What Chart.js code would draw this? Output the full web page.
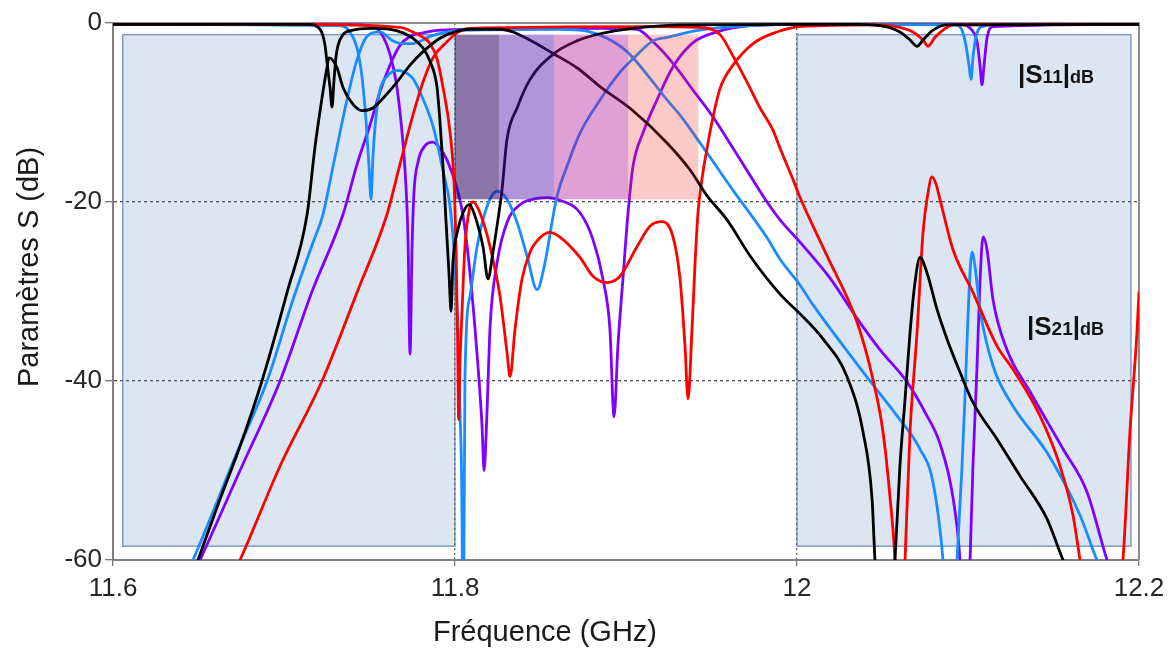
<!DOCTYPE html>
<html lang="fr">
<head>
<meta charset="utf-8">
<title>Paramètres S</title>
<script src="https://cdn.jsdelivr.net/npm/chart.js@4.4.1/dist/chart.umd.min.js"></script>
<style>
  html, body { margin: 0; padding: 0; background: #fff; }
  #wrap { width: 1172px; height: 657px; }
</style>
</head>
<body>
<div id="wrap"><canvas id="chart" width="1172" height="657"></canvas></div>
<script>
// axes
const xTicks = [11.6, 11.8, 12, 12.2];
const yTicks = [-60, -40, -20, 0];

// bandes (GHz) et niveaux (dB)
const rejectBands = [[11.6057, 11.8], [12.0, 12.1953]];
const rejectLevels = [-1.3, -58.45];
const passEdges = [11.8, 11.8257, 11.858, 11.9013, 11.9423];
const passLevels = [-1.3, -19.7];

// courbe noire
const blackS21F = [11.642, 11.6497, 11.6626, 11.6743, 11.6871, 11.7018, 11.7135, 11.7181, 11.7222, 11.7251, 11.7263, 11.7287, 11.7310, 11.7345, 11.7404, 11.7456, 11.7520, 11.7579, 11.7661, 11.7737, 11.7813, 11.7912, 11.8012, 11.8088, 11.8263, 11.8339, 11.8456, 11.8573, 11.8713, 11.8848, 11.9041, 11.9240, 11.9374, 11.9474, 11.9591, 11.9725, 11.9901, 12.0018, 12.0152, 12.0292, 12.0386, 12.0439, 12.0456, 12.0515, 12.0573, 12.0602, 12.0632, 12.0661, 12.0690, 12.0719, 12.0760, 12.0819, 12.0877, 12.0953, 12.1029, 12.1170, 12.1304, 12.1462, 12.1556, 12.1655, 12.2];
const blackS21Db = [-64, -60, -53.2, -47.3, -40, -30.1, -21.4, -13.9, -8.4, -5.0, -3.9, -4.2, -5.0, -7.2, -9.1, -9.8, -9.5, -8.4, -6.6, -4.7, -3.2, -1.7, -0.9, -0.7, -0.7, -1.0, -2.1, -3.4, -5.0, -7.1, -9.8, -13.4, -16.4, -19.3, -22, -26, -30.3, -32.5, -35.3, -39.5, -45.7, -53.2, -60, -75, -60, -49.5, -42, -34.6, -29, -26.2, -27.9, -32, -35.3, -39, -42.4, -46.5, -50.6, -55.4, -60, -64, -75];
const blackS11F = [11.6, 11.7152, 11.7193, 11.7222, 11.7240, 11.7251, 11.7269, 11.7281, 11.7292, 11.7304, 11.7316, 11.7345, 11.7404, 11.7503, 11.7620, 11.7696, 11.7754, 11.7813, 11.7854, 11.7895, 11.7912, 11.7930, 11.7947, 11.7965, 11.7977, 11.7988, 11.8018, 11.8047, 11.8082, 11.8129, 11.8164, 11.8193, 11.8222, 11.8251, 11.8275, 11.8304, 11.8363, 11.8439, 11.8573, 11.8713, 11.8848, 11.9041, 11.9333, 12.0310, 12.0485, 12.0602, 12.0661, 12.0702, 12.0737, 12.0795, 12.0877, 12.2];
const blackS11Db = [-0.15, -0.15, -0.4, -1.1, -2.5, -4.3, -7.2, -9.4, -6.5, -3.8, -2.5, -1.3, -0.8, -0.6, -0.7, -1.1, -1.7, -2.8, -4.3, -7.2, -11, -16, -22, -28, -32.2, -26.8, -23, -21.2, -20.3, -22.3, -25, -28.6, -25.6, -22, -18.6, -13, -9.5, -6.3, -3.5, -2.0, -1.2, -0.6, -0.2, -0.15, -0.3, -1.0, -1.9, -2.6, -1.9, -0.8, -0.2, -0.15];

// courbe bleue
const blueS21F = [11.637, 11.6468, 11.6725, 11.6901, 11.7053, 11.7170, 11.7228, 11.7287, 11.7368, 11.7427, 11.7485, 11.7561, 11.7637, 11.7696, 11.7754, 11.7854, 11.7953, 11.8047, 11.8614, 11.8772, 11.8889, 11.9006, 11.9158, 11.9240, 11.9316, 11.9433, 11.9626, 11.9825, 11.9901, 12.0018, 12.0094, 12.0427, 12.0585, 12.0719, 12.0795, 12.0854, 12.0895, 12.0936, 12.0965, 12.0982, 12.1000, 12.1023, 12.1041, 12.1070, 12.1146, 12.1263, 12.1462, 12.1655, 12.1754, 12.2];
const blueS21Db = [-64, -60, -48, -40, -30.9, -24.5, -21.4, -16, -8.6, -4.1, -1.5, -1.0, -2.0, -2.3, -2.3, -1.5, -1.0, -0.8, -0.7, -0.9, -1.7, -3.2, -6.6, -8.6, -10.3, -13.4, -18.7, -24, -26.4, -29.3, -31.5, -40, -43.9, -47.6, -51.3, -60, -72, -60, -49.5, -42, -32.8, -25.6, -27.2, -32, -38.3, -42.8, -48, -55, -60, -70];
const blueS11F = [11.6, 11.7327, 11.7386, 11.7427, 11.7456, 11.7480, 11.7497, 11.7509, 11.7520, 11.7538, 11.7561, 11.7602, 11.7661, 11.7708, 11.7754, 11.7813, 11.7871, 11.7930, 11.7971, 11.8000, 11.8018, 11.8029, 11.8041, 11.8047, 11.8058, 11.8088, 11.8129, 11.8187, 11.8246, 11.8304, 11.8363, 11.8421, 11.8480, 11.8526, 11.8567, 11.8596, 11.8655, 11.8731, 11.8848, 11.8965, 11.9041, 11.9158, 11.9240, 11.9433, 11.9725, 12.0018, 12.0930, 12.0965, 12.0988, 12.1006, 12.1018, 12.1029, 12.1047, 12.1082, 12.1187, 12.2];
const blueS11Db = [-0.15, -0.3, -1.0, -2.8, -6, -11, -16, -19.7, -15, -10.5, -7.5, -6, -5.3, -5.5, -6.2, -8.5, -11.5, -16.5, -20.5, -27, -35, -43, -55, -75, -40, -30.5, -25, -20.5, -18.8, -19.7, -22.3, -26, -29.8, -26.8, -22.3, -19.4, -16, -12.3, -8.6, -5.5, -4.0, -2.0, -1.6, -0.8, -0.3, -0.15, -0.2, -0.8, -2.5, -4.8, -6.3, -3.9, -1.5, -0.4, -0.15, -0.15];

// courbe violette
const purpleS21F = [11.641, 11.6509, 11.6743, 11.6977, 11.7164, 11.7345, 11.7427, 11.7503, 11.7561, 11.7620, 11.7678, 11.7737, 11.7813, 11.7912, 11.8848, 11.9064, 11.9158, 11.9275, 11.9392, 11.9509, 11.9626, 11.9725, 11.9825, 11.9901, 12.0018, 12.0193, 12.0351, 12.0485, 12.0643, 12.0749, 12.0836, 12.0912, 12.0953, 12.0982, 12.1012, 12.1029, 12.1053, 12.1070, 12.1088, 12.1111, 12.1146, 12.1228, 12.1363, 12.1556, 12.1696, 12.1813, 12.2];
const purpleS21Db = [-64, -60, -50, -40, -30, -21.4, -15.8, -11.4, -7.7, -4.7, -2.5, -1.5, -1.1, -0.8, -0.6, -0.7, -2.1, -4.5, -7.5, -10.5, -14, -17, -20, -22, -24.5, -28.5, -33, -36.5, -40.1, -43.5, -47, -53, -60, -72, -60, -49.5, -38.3, -29, -23.9, -25.3, -30.9, -36.5, -41.2, -47.6, -52.4, -60, -70];
const purpleS11F = [11.6, 11.7444, 11.7532, 11.7579, 11.7620, 11.7655, 11.7684, 11.7708, 11.7725, 11.7737, 11.7749, 11.7760, 11.7784, 11.7825, 11.7871, 11.7912, 11.7953, 11.8012, 11.8047, 11.8088, 11.8129, 11.8158, 11.8170, 11.8187, 11.8205, 11.8246, 11.8304, 11.8380, 11.8480, 11.8544, 11.8614, 11.8731, 11.8807, 11.8865, 11.8906, 11.8930, 11.8953, 11.8982, 11.9012, 11.9041, 11.9099, 11.9181, 11.9275, 11.9392, 11.9532, 11.9725, 12.0018, 12.0953, 12.1023, 12.1053, 12.1070, 12.1082, 12.1094, 12.1111, 12.1146, 12.2];
const purpleS11Db = [-0.15, -0.2, -0.5, -1.5, -3.5, -6.5, -11, -16.5, -24, -37, -25, -19, -15.5, -13.7, -13.3, -14, -15.3, -18.5, -21.5, -28, -37, -45, -50, -43.5, -34, -26.8, -22.3, -20.3, -19.6, -19.5, -19.8, -21.2, -24.2, -28.6, -34.2, -44, -36, -28.6, -21.2, -16, -12.3, -8.6, -4.9, -2.2, -1.0, -0.3, -0.15, -0.15, -0.8, -2.1, -4.7, -6.9, -4.7, -1.7, -0.4, -0.15];

// courbe rouge
const redS21F = [11.664, 11.6743, 11.6977, 11.7222, 11.7427, 11.7602, 11.7678, 11.7754, 11.7813, 11.7871, 11.7953, 11.8012, 11.8088, 11.9140, 11.9433, 11.9550, 11.9626, 11.9708, 11.9784, 11.9860, 11.9901, 11.9977, 12.0018, 12.0175, 12.0351, 12.0444, 12.0503, 12.0544, 12.0573, 12.0602, 12.0632, 12.0661, 12.0702, 12.0737, 12.0766, 12.0789, 12.0813, 12.0836, 12.0912, 12.1029, 12.1170, 12.1263, 12.1421, 12.1538, 12.1614, 12.1655, 12.1772, 12.1906, 12.1947, 12.1988, 12.2];
const redS21Db = [-64, -60, -49.5, -40, -30.1, -21.4, -15.8, -10.3, -6.6, -3.9, -2.1, -1.1, -0.6, -0.4, -0.5, -1.3, -3.7, -6.6, -9.5, -12, -14, -17.5, -19.5, -26, -33.4, -39.8, -45.7, -53, -60, -75, -60, -45.7, -34.6, -23.4, -19, -17.2, -18, -19.7, -25.3, -30.1, -36.1, -38.7, -43.9, -49.5, -55, -60, -75, -60, -45.7, -34.6, -30];
const redS11F = [11.6, 11.7094, 11.7678, 11.7754, 11.7813, 11.7854, 11.7895, 11.7930, 11.7971, 11.7994, 11.8006, 11.8015, 11.8021, 11.8029, 11.8041, 11.8058, 11.8088, 11.8105, 11.8146, 11.8205, 11.8263, 11.8304, 11.8322, 11.8351, 11.8392, 11.8439, 11.8497, 11.8556, 11.8632, 11.8731, 11.8807, 11.8889, 11.8965, 11.9064, 11.9140, 11.9211, 11.9275, 11.9316, 11.9345, 11.9363, 11.9386, 11.9404, 11.9421, 11.9444, 11.9474, 11.9509, 11.9550, 11.9626, 11.9743, 11.9883, 12.0018, 12.0485, 12.0602, 12.0678, 12.0737, 12.0766, 12.0807, 12.0854, 12.0912, 12.2];
const redS11Db = [-0.15, -0.15, -0.5, -1.0, -1.6, -2.3, -4.0, -7.2, -12.2, -17.7, -25, -35, -44.3, -38, -32.3, -25, -20.5, -20, -21.2, -25, -30.5, -36.8, -39.5, -34.2, -28.6, -25.6, -24, -23.4, -24.2, -26.2, -28.3, -29, -28.3, -25, -22.7, -22.2, -23.9, -28.6, -36.1, -42, -34.2, -26.8, -21.2, -17.5, -14, -10.5, -7.3, -4.7, -2.3, -1.0, -0.4, -0.2, -0.5, -1.0, -1.9, -2.6, -1.6, -0.8, -0.2, -0.15];

const FONT = "'Liberation Sans', Arial, sans-serif";

function pts(f, d) {
  return f.map((x, i) => ({ x: x, y: d[i] }));
}

// le premier jeu est dessiné au-dessus
const curves = [
  { f: blackS11F, d: blackS11Db, color: '#000000' },
  { f: blackS21F, d: blackS21Db, color: '#000000' },
  { f: redS11F, d: redS11Db, color: '#ff0000' },
  { f: redS21F, d: redS21Db, color: '#ff0000' },
  { f: blueS11F, d: blueS11Db, color: '#1a8cff' },
  { f: blueS21F, d: blueS21Db, color: '#1a8cff' },
  { f: purpleS11F, d: purpleS11Db, color: '#8000ff' },
  { f: purpleS21F, d: purpleS21Db, color: '#8000ff' },
];

// couleurs des canaux (semi-transparentes, par-dessus les courbes)
const passColors = ['rgba(42,4,93,0.55)', 'rgba(79,22,168,0.45)', 'rgba(180,17,145,0.4)', 'rgba(243,39,39,0.25)'];

const zones = {
  id: 'zones',
  beforeDraw(chart) {
    const { ctx, scales: { x, y } } = chart;
    ctx.save();
    ctx.fillStyle = '#dce6f2';
    ctx.strokeStyle = '#7f9cc4';
    ctx.lineWidth = 1.5;
    const top = y.getPixelForValue(rejectLevels[0]);
    const bot = y.getPixelForValue(rejectLevels[1]);
    rejectBands.forEach(b => {
      const l = x.getPixelForValue(b[0]);
      const r = x.getPixelForValue(b[1]);
      ctx.fillRect(l, top, r - l, bot - top);
      ctx.strokeRect(l, top, r - l, bot - top);
    });
    ctx.restore();
  },
  beforeDatasetsDraw(chart) {
    const { ctx, chartArea: a } = chart;
    ctx.save();
    ctx.strokeStyle = '#8c8c8c';
    ctx.lineWidth = 2;
    ctx.beginPath();
    ctx.moveTo(a.left, a.top);
    ctx.lineTo(a.right, a.top);
    ctx.lineTo(a.right, a.bottom);
    ctx.stroke();
    ctx.restore();
  },
  afterDatasetsDraw(chart) {
    const { ctx, scales: { x, y } } = chart;
    ctx.save();
    const top = y.getPixelForValue(passLevels[0]);
    const bot = y.getPixelForValue(passLevels[1]);
    for (let i = 0; i < passEdges.length - 1; i++) {
      const l = x.getPixelForValue(passEdges[i]);
      const r = x.getPixelForValue(passEdges[i + 1]);
      ctx.fillStyle = passColors[i];
      ctx.fillRect(l, top, r - l, bot - top);
    }
    ctx.restore();
  },
  afterDraw(chart) {
    const ctx = chart.ctx;
    ctx.save();
    ctx.fillStyle = '#1a1a1a';
    ctx.font = '29px ' + FONT;
    ctx.textAlign = 'center';
    ctx.textBaseline = 'middle';
    ctx.fillText('Fréquence (GHz)', 545, 633);
    ctx.translate(30, 267);
    ctx.rotate(-Math.PI / 2);
    ctx.fillText('Paramètres S (dB)', 0, 0);
    ctx.restore();

    drawSParam(ctx, 1018, 82.5, '11');
    drawSParam(ctx, 1027, 335, '21');
  }
};

// |Sij|dB en gras avec indices
function drawSParam(ctx, x0, base, idx) {
  const parts = [['|', 26], ['S', 26], [idx, 19], ['|', 26], ['dB', 18]];
  ctx.save();
  ctx.fillStyle = '#111';
  ctx.textAlign = 'left';
  ctx.textBaseline = 'alphabetic';
  let cx = x0;
  parts.forEach(p => {
    ctx.font = 'bold ' + p[1] + 'px ' + FONT;
    ctx.fillText(p[0], cx, base);
    cx += ctx.measureText(p[0]).width;
  });
  ctx.restore();
}

new Chart(document.getElementById('chart'), {
  type: 'line',
  data: {
    datasets: curves.map(c => ({
      data: pts(c.f, c.d),
      borderColor: c.color,
      borderWidth: 2.8,
      pointRadius: 0,
      fill: false,
      cubicInterpolationMode: 'monotone',
    }))
  },
  options: {
    responsive: false,
    animation: false,
    devicePixelRatio: 1,
    events: [],
    layout: { padding: { top: 23, right: 33, left: 0, bottom: 0 } },
    plugins: { legend: { display: false }, tooltip: { enabled: false } },
    scales: {
      x: {
        type: 'linear',
        min: 11.6,
        max: 12.2,
        afterBuildTicks: s => { s.ticks = xTicks.map(v => ({ value: v })); },
        afterFit: s => { s.height = 97; },
        ticks: {
          callback: v => String(+v.toFixed(1)),
          font: { family: FONT, size: 26 },
          color: '#262626',
          padding: 7,
          maxRotation: 0,
          autoSkip: false,
        },
        grid: {
          color: c => (c.tick && (c.tick.value === 11.8 || c.tick.value === 12)) ? '#666666' : 'rgba(0,0,0,0)',
          lineWidth: 1.3,
          tickLength: 6,
          tickColor: '#777777',
        },
        border: { color: '#808080', width: 2, dash: [2, 3] },
      },
      y: {
        min: -60,
        max: 0,
        afterBuildTicks: s => { s.ticks = yTicks.map(v => ({ value: v })); },
        afterFit: s => { s.width = 113; },
        ticks: {
          font: { family: FONT, size: 26 },
          color: '#262626',
          padding: 3,
        },
        grid: {
          color: c => (c.tick && (c.tick.value === -20 || c.tick.value === -40)) ? '#555555' : 'rgba(0,0,0,0)',
          lineWidth: 1.3,
          tickLength: 8,
          tickColor: '#777777',
        },
        border: { color: '#808080', width: 2, dash: [3, 3] },
      }
    }
  },
  plugins: [zones]
});
</script>
</body>
</html>
